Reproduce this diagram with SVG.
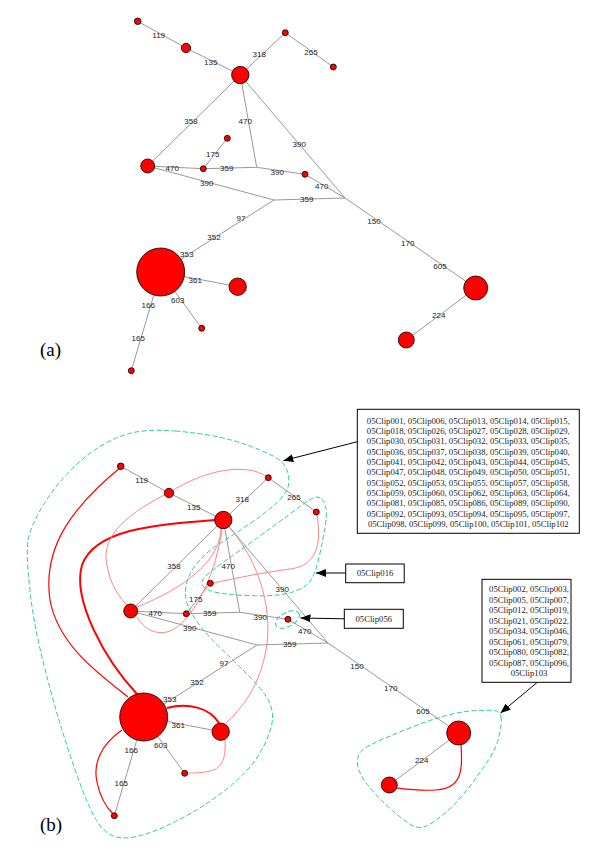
<svg xmlns="http://www.w3.org/2000/svg" width="600" height="856" viewBox="0 0 600 856">
<style>
.e{stroke:#8c8c8c;stroke-width:0.9;fill:none}
.n{fill:#ff0000;stroke:#000;stroke-width:0.8}
.el{font-family:"Liberation Sans",Arial,sans-serif;font-size:8px;fill:#222;text-anchor:middle}
.cap{font-family:"Liberation Serif","Times New Roman",serif;font-size:19px;fill:#000}
.bt{font-family:"Liberation Serif","Times New Roman",serif;font-size:8.7px;fill:#222;text-anchor:middle}
.box{fill:#fff;stroke:#000;stroke-width:1}
.arr{stroke:#000;stroke-width:1;fill:none;marker-end:url(#ah)}
.rk{stroke:#ff0000;stroke-width:2;fill:none}
.rm{stroke:#ff0000;stroke-width:1.2;fill:none}
.rp{stroke:#ff8585;stroke-width:1;fill:none}
.ct{stroke:#2ec99c;stroke-width:1;fill:none;stroke-dasharray:5 2.5}
</style>
<defs>
<marker id="ah" markerUnits="userSpaceOnUse" markerWidth="10" markerHeight="8" refX="10" refY="4" orient="auto"><path d="M0,0 L10,4 L0,8 z" fill="#000"/></marker>
</defs>

<!-- ================= (a) ================= -->
<g id="graph-a">
<g id="a-edges">
<path class="e" d="M137.7,21.3 L186,48"/>
<path class="e" d="M186,48 L240.3,75"/>
<path class="e" d="M240.3,75 L285.3,32.7"/>
<path class="e" d="M285.3,32.7 L333.3,67"/>
<path class="e" d="M240.3,75 L147.7,166"/>
<path class="e" d="M240.3,75 L256.7,167.3"/>
<path class="e" d="M240.3,75 L345,198"/>
<path class="e" d="M227.3,138.3 L203.3,168.7"/>
<path class="e" d="M147.7,166 L203.3,168.7"/>
<path class="e" d="M203.3,168.7 L256.7,167.3"/>
<path class="e" d="M256.7,167.3 L305,174.3"/>
<path class="e" d="M305,174.3 L345,198"/>
<path class="e" d="M147.7,166 L274,200"/>
<path class="e" d="M274,200 L345,198"/>
<path class="e" d="M274,200 L160.7,272"/>
<path class="e" d="M160.7,272 L237.7,286.7"/>
<path class="e" d="M160.7,272 L201.7,328.3"/>
<path class="e" d="M160.7,272 L131.3,370.7"/>
<path class="e" d="M345,198 L475.7,288"/>
<path class="e" d="M475.7,288 L406.3,340"/>
</g>
<g id="a-n119"><circle class="n" cx="137.7" cy="21.3" r="3.3"/></g>
<g id="a-n135"><circle class="n" cx="186" cy="48" r="4.7"/></g>
<g id="a-hub"><circle class="n" cx="240.3" cy="75" r="8.7"/></g>
<g id="a-n318"><circle class="n" cx="285.3" cy="32.7" r="3"/></g>
<g id="a-n265"><circle class="n" cx="333.3" cy="67" r="3"/></g>
<g id="a-left"><circle class="n" cx="147.7" cy="166" r="7"/></g>
<g id="a-n175"><circle class="n" cx="227.3" cy="138.3" r="3"/></g>
<g id="a-s470"><circle class="n" cx="203.3" cy="168.7" r="3"/></g>
<g id="a-s390"><circle class="n" cx="305" cy="174.3" r="3"/></g>
<g id="a-big"><circle class="n" cx="160.7" cy="272" r="24"/></g>
<g id="a-n361"><circle class="n" cx="237.7" cy="286.7" r="8.7"/></g>
<g id="a-n603"><circle class="n" cx="201.7" cy="328.3" r="3"/></g>
<g id="a-n165"><circle class="n" cx="131.3" cy="370.7" r="3"/></g>
<g id="a-bigR"><circle class="n" cx="475.7" cy="288" r="12"/></g>
<g id="a-lowR"><circle class="n" cx="406.3" cy="340" r="8"/></g>
<g id="a-labels">
<text class="el" x="158.7" y="37.7">119</text>
<text class="el" x="210.7" y="65.3">135</text>
<text class="el" x="259.3" y="57">318</text>
<text class="el" x="311" y="54.7">265</text>
<text class="el" x="191" y="124">358</text>
<text class="el" x="245.3" y="123.7">470</text>
<text class="el" x="299.3" y="147">390</text>
<text class="el" x="212.7" y="156.7">175</text>
<text class="el" x="172.3" y="171">470</text>
<text class="el" x="226.7" y="171">359</text>
<text class="el" x="277.3" y="174.7">390</text>
<text class="el" x="321.7" y="189">470</text>
<text class="el" x="206.7" y="185.7">390</text>
<text class="el" x="306.7" y="202">359</text>
<text class="el" x="241" y="220.7">97</text>
<text class="el" x="214" y="239.7">352</text>
<text class="el" x="186.7" y="257.3">353</text>
<text class="el" x="195.3" y="282.7">361</text>
<text class="el" x="177.7" y="303">603</text>
<text class="el" x="148.3" y="308">166</text>
<text class="el" x="138.3" y="341.3">165</text>
<text class="el" x="374" y="224">150</text>
<text class="el" x="407.7" y="246.3">170</text>
<text class="el" x="440" y="269">605</text>
<text class="el" x="438.7" y="318">224</text>
</g>
<text class="cap" x="40" y="356">(a)</text>
</g>

<!-- ================= (b) ================= -->
<g id="graph-b">
<g id="b-edges" transform="translate(-17,445)">
<path class="e" d="M137.7,21.3 L186,48"/>
<path class="e" d="M186,48 L240.3,75"/>
<path class="e" d="M240.3,75 L285.3,32.7"/>
<path class="e" d="M285.3,32.7 L333.3,67"/>
<path class="e" d="M240.3,75 L147.7,166"/>
<path class="e" d="M240.3,75 L256.7,167.3"/>
<path class="e" d="M240.3,75 L345,198"/>
<path class="e" d="M227.3,138.3 L203.3,168.7"/>
<path class="e" d="M147.7,166 L203.3,168.7"/>
<path class="e" d="M203.3,168.7 L256.7,167.3"/>
<path class="e" d="M256.7,167.3 L305,174.3"/>
<path class="e" d="M305,174.3 L345,198"/>
<path class="e" d="M147.7,166 L274,200"/>
<path class="e" d="M274,200 L345,198"/>
<path class="e" d="M274,200 L160.7,272"/>
<path class="e" d="M160.7,272 L237.7,286.7"/>
<path class="e" d="M160.7,272 L201.7,328.3"/>
<path class="e" d="M160.7,272 L131.3,370.7"/>
<path class="e" d="M345,198 L475.7,288"/>
<path class="e" d="M475.7,288 L406.3,340"/>
</g>
<g id="b-paths">
<path class="rm" d="M121,467 C75,505 42,545 50,600 C58,645 100,675 128,697"/>
<path class="rk" d="M215,520 C150,525 95,530 82,565 C72,600 105,660 137,694"/>
<path class="rk" d="M167,708 C188,702 210,708 219,723"/>
<path class="rm" d="M122,730 C100,745 93,765 97,782 C100,797 107,808 113,814"/>
<path class="rm" d="M461,745 C463,770 462,789 435,790 C420,791 405,789 397,788"/>
<path class="rp" d="M268,477 C245,462 205,470 170,492 C130,512 100,535 107,565 C110,585 120,598 127,605"/>
<path class="rp" d="M317,515 C322,545 316,566 290,569 C260,573 232,579 213,583"/>
<path class="rp" d="M221,528 C221,560 185,588 137,607"/>
<path class="rp" d="M137,617 C146,632 162,638 177,627 C198,611 216,572 222,529"/>
<path class="rp" d="M229,527 C262,565 274,615 265,655 C258,688 242,708 226,723"/>
<path class="rp" d="M225,740 C226,760 222,770 205,772 C198,773 192,773 189,773"/>
</g>
<g id="b-contours">
<path class="ct" d="M175,431 Q200,433 218.5,437 Q237,441 250,446 Q263,451 273,456 Q283,461 286.5,469 Q290,477 288.5,485 Q287,493 277,502.5 Q267,512 250,523.5 Q233,535 219,544 Q205,553 196.5,564 Q188,575 186,586 Q184,597 188.5,607 Q193,617 201.5,627.5 Q210,638 222.5,650 Q235,662 247.5,674.5 Q260,687 266.5,697 Q273,707 272.5,718.5 Q272,730 262.5,748.5 Q253,767 231.5,785 Q210,803 185,816.5 Q160,830 142.5,835 Q125,840 114.5,836.5 Q104,833 96,819.5 Q88,806 77.5,776.5 Q67,747 58.5,718.5 Q50,690 41.5,655 Q33,620 29.5,586.5 Q26,553 28,540.5 Q30,528 41,509 Q52,490 67.5,473.5 Q83,457 100,446.5 Q117,436 133.5,432.5 Q150,429 175,431 Z"/>
<path class="ct" d="M321.5,499 Q325,502 326,508.5 Q327,515 325,527.5 Q323,540 319.5,555.5 Q316,571 311.5,579 Q307,587 295,591.25 Q283,595.5 265.5,595.75 Q248,596 231,594.5 Q214,593 207.5,589.5 Q201,586 202,581.5 Q203,577 215.5,568 Q228,559 244,547.5 Q260,536 275,525 Q290,514 300,506.5 Q310,499 314,497.5 Q318,496 321.5,499 Z"/>
<ellipse class="ct" cx="287.5" cy="619.5" rx="13" ry="7" transform="rotate(-28 287.5 619.5)"/>
<path class="ct" d="M501,717 Q502,722 499.5,734.5 Q497,747 488.5,760 Q480,773 468.5,788 Q457,803 445,813 Q433,823 426.5,826 Q420,829 413.5,826 Q407,823 393.5,811.5 Q380,800 369,786.5 Q358,773 357.5,764 Q357,755 362,750.5 Q367,746 382,739.5 Q397,733 413.5,726.5 Q430,720 446.5,715.5 Q463,711 478,710.5 Q493,710 496.5,711 Q500,712 501,717 Z"/>
</g>
<g transform="translate(-17,445)">
<g id="b-n119"><circle class="n" cx="137.7" cy="21.3" r="3.3"/></g>
<g id="b-n135"><circle class="n" cx="186" cy="48" r="4.7"/></g>
<g id="b-hub"><circle class="n" cx="240.3" cy="75" r="8.7"/></g>
<g id="b-n318"><circle class="n" cx="285.3" cy="32.7" r="3"/></g>
<g id="b-n265"><circle class="n" cx="333.3" cy="67" r="3"/></g>
<g id="b-left"><circle class="n" cx="147.7" cy="166" r="7"/></g>
<g id="b-n175"><circle class="n" cx="227.3" cy="138.3" r="3"/></g>
<g id="b-s470"><circle class="n" cx="203.3" cy="168.7" r="3"/></g>
<g id="b-s390"><circle class="n" cx="305" cy="174.3" r="3"/></g>
<g id="b-big"><circle class="n" cx="160.7" cy="272" r="24"/></g>
<g id="b-n361"><circle class="n" cx="237.7" cy="286.7" r="8.7"/></g>
<g id="b-n603"><circle class="n" cx="201.7" cy="328.3" r="3"/></g>
<g id="b-n165"><circle class="n" cx="131.3" cy="370.7" r="3"/></g>
<g id="b-bigR"><circle class="n" cx="475.7" cy="288" r="12"/></g>
<g id="b-lowR"><circle class="n" cx="406.3" cy="340" r="8"/></g>
<g id="b-labels">
<text class="el" x="158.7" y="37.7">119</text>
<text class="el" x="210.7" y="65.3">135</text>
<text class="el" x="259.3" y="57">318</text>
<text class="el" x="311" y="54.7">265</text>
<text class="el" x="191" y="124">358</text>
<text class="el" x="245.3" y="123.7">470</text>
<text class="el" x="299.3" y="147">390</text>
<text class="el" x="212.7" y="156.7">175</text>
<text class="el" x="172.3" y="171">470</text>
<text class="el" x="226.7" y="171">359</text>
<text class="el" x="277.3" y="174.7">390</text>
<text class="el" x="321.7" y="189">470</text>
<text class="el" x="206.7" y="185.7">390</text>
<text class="el" x="306.7" y="202">359</text>
<text class="el" x="241" y="220.7">97</text>
<text class="el" x="214" y="239.7">352</text>
<text class="el" x="186.7" y="257.3">353</text>
<text class="el" x="195.3" y="282.7">361</text>
<text class="el" x="177.7" y="303">603</text>
<text class="el" x="148.3" y="308">166</text>
<text class="el" x="138.3" y="341.3">165</text>
<text class="el" x="374" y="224">150</text>
<text class="el" x="407.7" y="246.3">170</text>
<text class="el" x="440" y="269">605</text>
<text class="el" x="438.7" y="318">224</text>
</g>
</g>
<g id="b-arrows">
<path class="arr" d="M357.3,441.7 L283.3,460.7"/>
<path class="arr" d="M345.7,573 L316,573"/>
<path class="arr" d="M344.3,618.8 L300.5,618"/>
<path class="arr" d="M537.3,682.3 L500.5,713"/>
</g>
<g id="box-main">
<rect class="box" x="357.3" y="409.3" width="222" height="124"/>
<text class="bt" x="468.3" y="423.7">05Clip001, 05Clip006, 05Clip013, 05Clip014, 05Clip015,</text>
<text class="bt" x="468.3" y="434">05Clip018, 05Clip026, 05Clip027, 05Clip028, 05Clip029,</text>
<text class="bt" x="468.3" y="444.4">05Clip030, 05Clip031, 05Clip032, 05Clip033, 05Clip035,</text>
<text class="bt" x="468.3" y="454.7">05Clip036, 05Clip037, 05Clip038, 05Clip039, 05Clip040,</text>
<text class="bt" x="468.3" y="465.1">05Clip041, 05Clip042, 05Clip043, 05Clip044, 05Clip045,</text>
<text class="bt" x="468.3" y="475.4">05Clip047, 05Clip048, 05Clip049, 05Clip050, 05Clip051,</text>
<text class="bt" x="468.3" y="485.7">05Clip052, 05Clip053, 05Clip055, 05Clip057, 05Clip058,</text>
<text class="bt" x="468.3" y="496.1">05Clip059, 05Clip060, 05Clip062, 05Clip063, 05Clip064,</text>
<text class="bt" x="468.3" y="506.4">05Clip081, 05Clip085, 05Clip086, 05Clip089, 05Clip090,</text>
<text class="bt" x="468.3" y="516.8">05Clip092, 05Clip093, 05Clip094, 05Clip095, 05Clip097,</text>
<text class="bt" x="468.3" y="527.1">05Clip098, 05Clip099, 05Clip100, 05Clip101, 05Clip102</text>
</g>
<g id="box-016">
<rect class="box" x="345.7" y="564" width="58.5" height="18.7"/>
<text class="bt" x="375" y="576.3">05Clip016</text>
</g>
<g id="box-056">
<rect class="box" x="344.3" y="609.3" width="59" height="19"/>
<text class="bt" x="373.8" y="621.8">05Clip056</text>
</g>
<g id="box-right">
<rect class="box" x="482" y="579.3" width="89" height="103"/>
<text class="bt" x="529" y="592.3">05Clip002, 05Clip003,</text>
<text class="bt" x="529" y="602.8">05Clip005, 05Clip007,</text>
<text class="bt" x="529" y="613.3">05Clip012, 05Clip019,</text>
<text class="bt" x="529" y="623.8">05Clip021, 05Clip022,</text>
<text class="bt" x="529" y="634.3">05Clip034, 05Clip046,</text>
<text class="bt" x="529" y="644.8">05Clip061, 05Clip079,</text>
<text class="bt" x="529" y="655.3">05Clip080, 05Clip082,</text>
<text class="bt" x="529" y="665.8">05Clip087, 05Clip096,</text>
<text class="bt" x="529" y="676.3">05Clip103</text>
</g>
<text class="cap" x="40" y="831">(b)</text>
</g>
</svg>
